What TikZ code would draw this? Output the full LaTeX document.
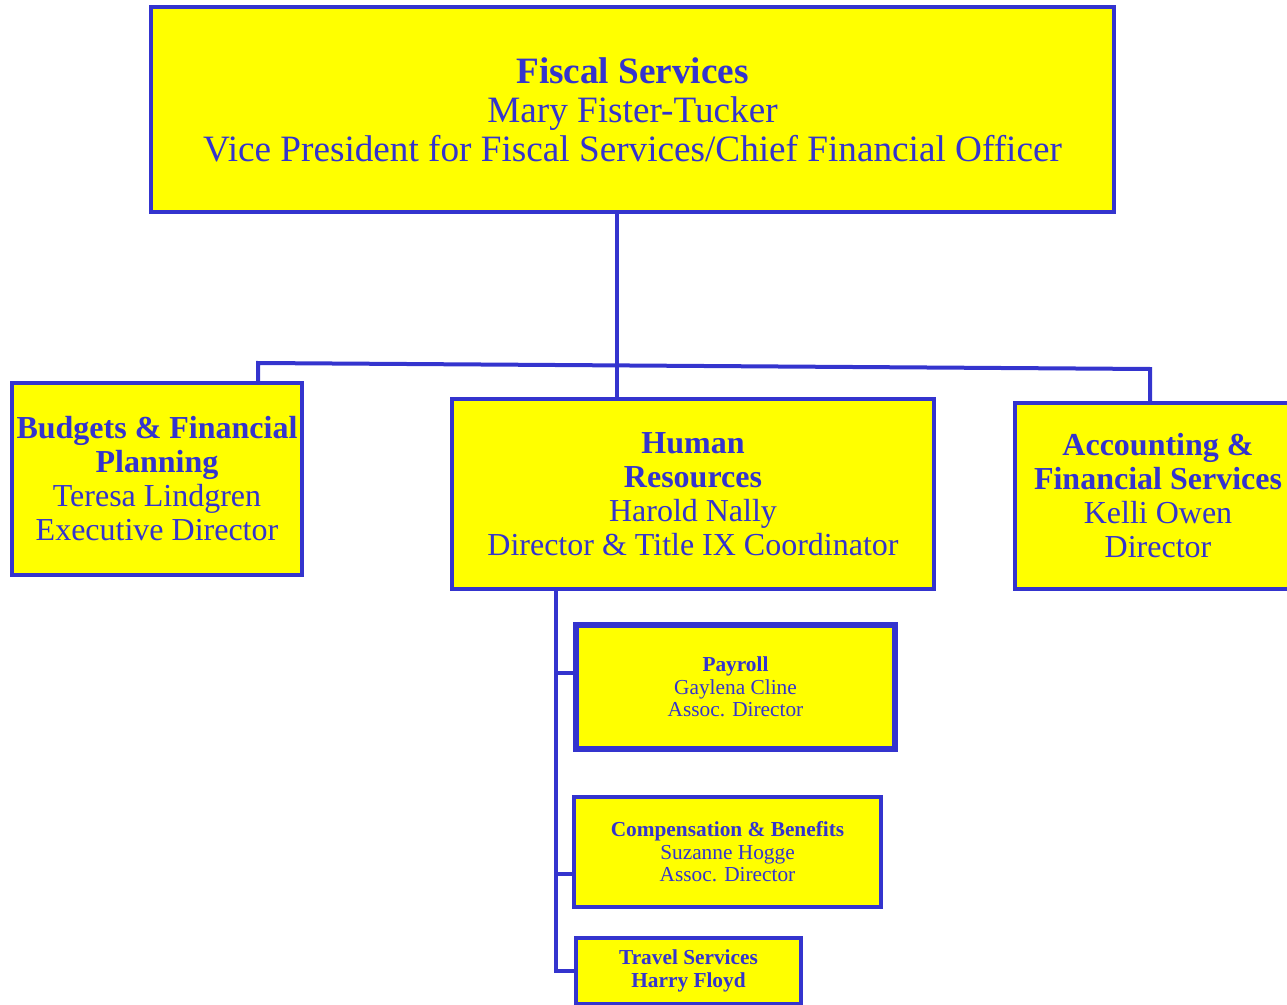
\documentclass[tikz,border=0pt]{standalone}
\usepackage{fontspec}
\setmainfont{Liberation Serif}
\definecolor{fsblue}{RGB}{52,52,206}
\definecolor{fsyellow}{RGB}{255,255,0}
\tikzset{
  unitbox/.style={draw=fsblue, fill=fsyellow, line width=3pt, align=center,
    inner sep=0pt, text=fsblue},
  bigtext/.style={font=\fontsize{27.9}{29.3}\selectfont},
  midtext/.style={font=\fontsize{24}{25.5}\selectfont},
  smalltext/.style={font=\fontsize{16}{16.9}\selectfont},
  link/.style={draw=fsblue, line width=3pt},
}
\begin{document}
\begin{tikzpicture}[x=0.75pt,y=-0.75pt]
\useasboundingbox (0,0) rectangle (1287,1005);

% top office
\node[unitbox, bigtext, minimum width=963*0.75pt, minimum height=205*0.75pt]
  (top) at (632.5,109.5)
  {\textbf{Fiscal Services}\\Mary Fister-Tucker\\Vice President for Fiscal Services/Chief Financial Officer};

% second level
\node[unitbox, midtext, minimum width=290*0.75pt, minimum height=192*0.75pt]
  (budgets) at (157,479)
  {\textbf{Budgets \& Financial}\\\textbf{Planning}\\Teresa Lindgren\\Executive Director};
\node[unitbox, midtext, minimum width=482*0.75pt, minimum height=190*0.75pt]
  (hr) at (693,494)
  {\textbf{Human}\\\textbf{Resources}\\Harold Nally\\Director \& Title IX Coordinator};
\node[unitbox, midtext, minimum width=286*0.75pt, minimum height=186*0.75pt]
  (acct) at (1158,496)
  {\textbf{Accounting \&}\\\textbf{Financial Services}\\Kelli Owen\\Director};

% units under human resources
\node[unitbox, smalltext, line width=3.8pt, minimum width=319*0.75pt, minimum height=124*0.75pt]
  (payroll) at (735.5,687)
  {\textbf{Payroll}\\Gaylena Cline\\Assoc. Director};
\node[unitbox, smalltext, minimum width=307*0.75pt, minimum height=110*0.75pt]
  (comp) at (727.5,852)
  {\textbf{Compensation \& Benefits}\\Suzanne Hogge\\Assoc. Director};
\node[unitbox, smalltext, minimum width=225*0.75pt, minimum height=66*0.75pt]
  (travel) at (688.5,971)
  {\textbf{Travel Services}\\\textbf{Harry Floyd}};

% connectors
\coordinate (trunk) at (617,212);
\coordinate (barL) at (258,363);
\coordinate (barR) at (1150,369);
\coordinate (spine) at (556,589);

\draw[link] (top.south -| trunk) -- (trunk |- hr.north);
\draw[link] (barL |- budgets.north) -- (barL) -- (barR) -- (barR |- acct.north);
\draw[link] (hr.south -| spine) -- (spine |- travel.west) -- (travel.west);
\draw[link] (spine |- 0,673) -- (payroll.west |- 0,673);
\draw[link] (spine |- 0,874) -- (comp.west |- 0,874);
\end{tikzpicture}
\end{document}
